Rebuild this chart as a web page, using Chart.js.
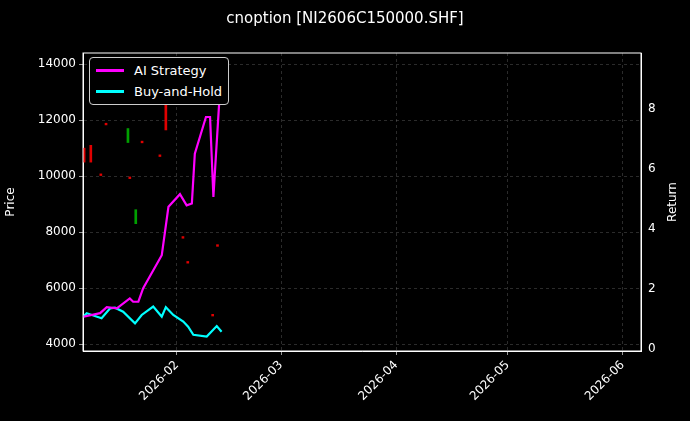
<!DOCTYPE html>
<html><head><meta charset="utf-8">
<script src="https://cdn.jsdelivr.net/npm/chart.js@4"></script>
<style>html,body{margin:0;background:#000;}#w{position:relative;width:690px;height:421px}
#lg{position:absolute;left:89px;top:57px;border:1px solid #ccc;border-radius:4px;padding:2px 6px;font:13px "DejaVu Sans";color:#fff;background:#000}
#lg div{display:flex;align-items:center;height:21px}#lg span{display:inline-block;width:28px;height:3px;margin-right:10px}</style>
</head><body><div id="w"><canvas id="c" width="690" height="421"></canvas>
<div id="lg"><div><span style="background:#ff00ff"></span>AI Strategy</div><div><span style="background:#00ffff"></span>Buy-and-Hold</div></div></div>
<script>
// day index: 0 = 2026-01-01
const aiDays=[5.8,10.3,12.1,14.8,18.3,19.2,20.6,21.9,26.9,28.7,31.8,33.6,35.0,35.8,38.8,39.9,40.8,43.0];
const aiRet=[1.07,1.19,1.39,1.35,1.68,1.57,1.57,2.02,3.12,4.73,5.15,4.78,4.84,6.50,7.72,7.72,5.06,9.49];
const bhDays=[5.8,6.7,10.7,13.0,14.3,16.5,19.7,21.5,24.6,26.9,28.0,30.0,32.7,34.0,35.4,39.0,41.7,43.0];
const bhRet=[1.07,1.19,1.02,1.35,1.37,1.24,0.85,1.13,1.41,1.07,1.39,1.13,0.91,0.74,0.47,0.41,0.76,0.57];
const candleDays=[6.0,7.8,17.8,19.9,28.0,11.9,10.5,18.3,21.6,26.4,32.6,33.9,41.9,40.6];
const candleLow=[10500,10500,11200,8300,11650,11830,10020,9910,11190,10700,7780,6890,7490,5000];
const candleHigh=[11000,11100,11700,8800,12800,11890,10080,9970,11250,10760,7840,6950,7550,5060];
const candleUp=[false,false,true,true,false,false,false,false,false,false,false,false,false,false];
const tickDays=[31,59,90,120,151];
const tickLabels=['2026-02','2026-03','2026-04','2026-05','2026-06'];
const priceTicks=[4000,6000,8000,10000,12000,14000];
const retTicks=[0,2,4,6,8];

const grid={color:'rgba(160,160,160,0.45)',lineWidth:0.6,tickColor:'#fff',tickLength:4};
new Chart(document.getElementById('c'),{
 data:{datasets:[
  {type:'bar',yAxisID:'y',data:candleDays.map((d,i)=>({x:d,y:[candleLow[i],candleHigh[i]]})),
   backgroundColor:candleUp.map(u=>u?'#00a000':'#e00000'),barThickness:2,order:3},
  {type:'line',yAxisID:'y1',data:aiDays.map((d,i)=>({x:d,y:aiRet[i]})),borderColor:'#ff00ff',borderWidth:2.2,pointRadius:0,tension:0,order:1},
  {type:'line',yAxisID:'y1',data:bhDays.map((d,i)=>({x:d,y:bhRet[i]})),borderColor:'#00ffff',borderWidth:2.2,pointRadius:0,tension:0,order:2}
 ]},
 options:{responsive:false,animation:false,layout:{padding:0},
  plugins:{legend:{display:false},tooltip:{enabled:false},
   title:{display:true,text:'cnoption [NI2606C150000.SHF]',color:'#fff',font:{family:'DejaVu Sans',size:15,weight:'normal'},padding:{top:10,bottom:25}}},
  scales:{
   x:{type:'linear',offset:false,min:5.7,max:155.9,grid:{...grid,offset:false},border:{color:'#fff',width:1,dash:[3,3]},
    afterBuildTicks:a=>{a.ticks=tickDays.map(v=>({value:v}));},
    ticks:{color:'#fff',maxRotation:45,minRotation:45,font:{family:'DejaVu Sans',size:12},callback:v=>tickLabels[tickDays.indexOf(v)]},
    afterFit:s=>{s.height=70;}},
   y:{position:'left',min:3750,max:14400,grid:{...grid},border:{color:'#fff',dash:[3,3]},
    afterBuildTicks:a=>{a.ticks=priceTicks.map(v=>({value:v}));},
    ticks:{color:'#fff',font:{family:'DejaVu Sans',size:12},callback:v=>String(v)},
    title:{display:true,text:'Price',color:'#fff',font:{family:'DejaVu Sans',size:12}},
    afterFit:s=>{s.width=83;}},
   y1:{position:'right',min:-0.07,max:9.85,grid:{display:false,tickColor:'#fff',tickLength:4},border:{color:'#fff'},
    afterBuildTicks:a=>{a.ticks=retTicks.map(v=>({value:v}));},
    ticks:{color:'#fff',font:{family:'DejaVu Sans',size:12}},
    afterFit:s=>{s.width=49;}}
  }},
 plugins:[{id:'bg',beforeDraw:c=>{const x=c.ctx;x.save();x.fillStyle='#000';x.fillRect(0,0,c.width,c.height);x.restore();}},
  {id:'box',afterDraw:c=>{const a=c.chartArea,x=c.ctx;x.save();x.strokeStyle='#fff';x.lineWidth=1;x.strokeRect(a.left,a.top,a.right-a.left,a.bottom-a.top);
   x.translate(673,(a.top+a.bottom)/2);x.rotate(-Math.PI/2);x.fillStyle='#fff';x.font='12px "DejaVu Sans"';x.textAlign='center';x.textBaseline='middle';x.fillText('Return',0,0);x.restore();}}]
});
</script></body></html>
